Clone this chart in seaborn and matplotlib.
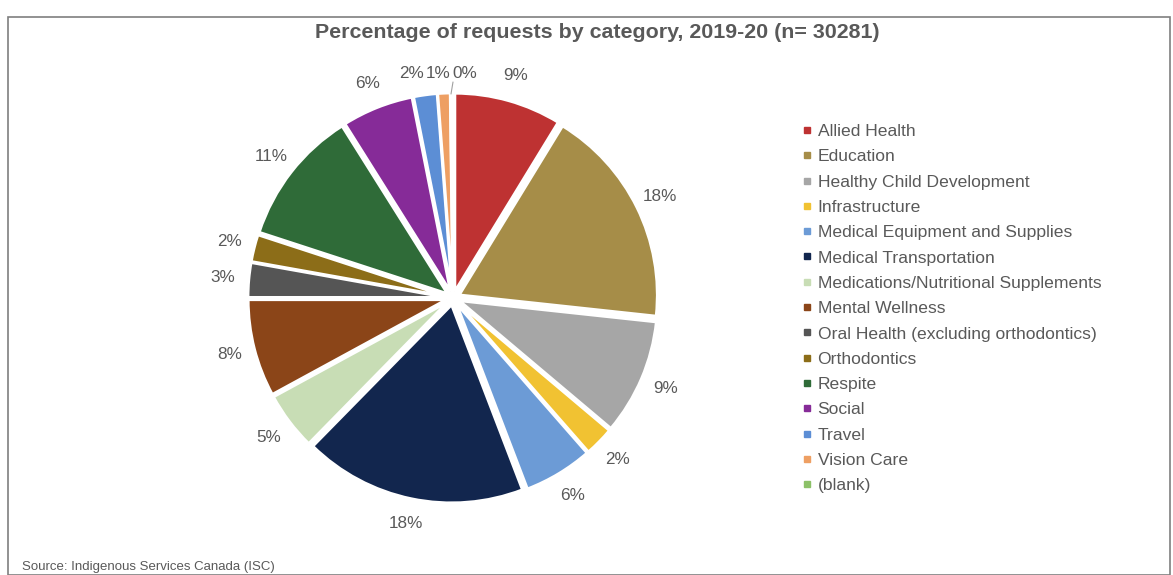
import matplotlib
matplotlib.use("Agg")
import matplotlib.pyplot as plt
import seaborn as sns
from matplotlib.lines import Line2D
from matplotlib.patches import Rectangle

# Datos
categorias = [
    "Allied Health", "Education", "Healthy Child Development", "Infrastructure",
    "Medical Equipment and Supplies", "Medical Transportation",
    "Medications/Nutritional Supplements", "Mental Wellness",
    "Oral Health (excluding orthodontics)", "Orthodontics", "Respite",
    "Social", "Travel", "Vision Care", "(blank)",
]
porcentajes = [8.7, 17.9, 9.4, 2.4, 5.6, 18.1, 4.7, 7.9, 2.8, 2.2, 11.0, 5.8, 1.9, 1.0, 0.2]
colores = [
    "#BE3232", "#A68D48", "#A6A6A6", "#F1C232", "#6C9BD6", "#12264E",
    "#C8DDB5", "#8B4518", "#555555", "#8C6D18", "#2F6B38", "#862B98",
    "#5C8ED5", "#EE9F63", "#8CC168",
]

sns.set_theme(style="white")
plt.rcParams["font.family"] = ["Liberation Sans", "DejaVu Sans"]
gris = "#595959"

fig = plt.figure(figsize=(11.73, 5.75), dpi=100)

# Marco exterior
fig.patches.append(Rectangle((8 / 1173, 0), 1162 / 1173, 1 - 17 / 575,
                             transform=fig.transFigure, fill=False,
                             edgecolor="#7f7f7f", linewidth=1.2))

ax = fig.add_axes([(453 - 220) / 1173, (575 - 298 - 220) / 575, 440 / 1173, 440 / 575])
wedges, textos, pcts = ax.pie(
    porcentajes, colors=colores, startangle=90, counterclock=False,
    explode=[0.035] * len(porcentajes), radius=0.99,
    autopct="%1.0f%%", pctdistance=1.13,
    wedgeprops=dict(edgecolor="white", linewidth=2),
    textprops=dict(color=gris, fontsize=12.3),
)
ax.set_xlim(-1.1, 1.1)
ax.set_ylim(-1.1, 1.1)
ax.set_aspect("equal")
ax.axis("off")

# Etiquetas pequeñas de arriba (Travel, Vision Care, blank) con línea guía
pcts[-3].set_position((-0.21, 1.12))
pcts[-2].set_position((-0.075, 1.12))
pcts[-1].set_position((0.06, 1.12))
ax.plot([-0.01, 0.0], [1.02, 1.08], color="#a0a0a0", linewidth=0.8)

fig.text(597 / 1173, 1 - 32 / 575, "Percentage of requests by category, 2019-20 (n= 30281)",
         ha="center", va="center", fontsize=15.4, fontweight="bold", color=gris)

handles = [Line2D([0], [0], marker="s", linestyle="", markersize=4,
                  markerfacecolor=c, markeredgecolor=c) for c in colores]
fig.legend(handles, categorias, loc="upper left", bbox_to_anchor=(794 / 1173, 1 - 115 / 575),
           frameon=False, fontsize=12.6, labelcolor=gris, handlelength=0.5,
           handletextpad=0.35, labelspacing=0.575, borderpad=0)

fig.text(22 / 1173, 1 - 567 / 575, "Source: Indigenous Services Canada (ISC)",
         ha="left", va="center", fontsize=9.5, color=gris)

fig.savefig("out.png", dpi=100)
